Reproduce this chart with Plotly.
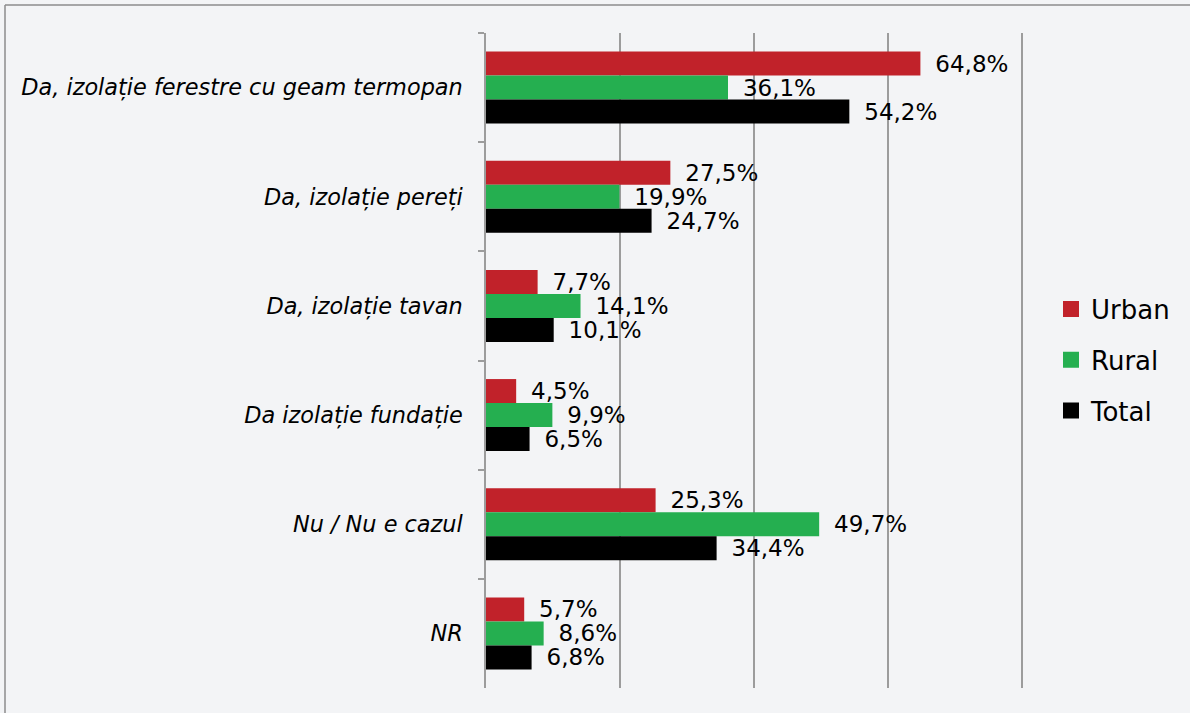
import plotly.graph_objects as go

categories = [
    "Da, izolație ferestre cu geam termopan",
    "Da, izolație pereți",
    "Da, izolație tavan",
    "Da izolație fundație",
    "Nu / Nu e cazul",
    "NR",
]
urban = [64.8, 27.5, 7.7, 4.5, 25.3, 5.7]
rural = [36.1, 19.9, 14.1, 9.9, 49.7, 8.6]
total = [54.2, 24.7, 10.1, 6.5, 34.4, 6.8]

series = [
    ("Urban", urban, "#C1222A"),
    ("Rural", rural, "#25AF50"),
    ("Total", total, "#000000"),
]

PAD = "\u00a0\u2009"


def fmt(v):
    return PAD + f"{v:.1f}%".replace(".", ",")


W, H = 1190, 713
L, R, T, B = 486, 161, 33, 25
PW = W - L - R
PH = H - T - B

fig = go.Figure()
for name, vals, col in series:
    fig.add_trace(go.Bar(
        y=categories, x=vals, orientation="h", name=name,
        marker=dict(color=col, line=dict(width=0)),
        text=[fmt(v) for v in vals], textposition="outside",
        constraintext="none",
        textfont=dict(family="DejaVu Sans", size=23, color="#000000"),
        cliponaxis=False, showlegend=False,
    ))
# legend entries
for name, vals, col in series:
    fig.add_trace(go.Scatter(
        x=[None], y=[None], mode="markers", name=name,
        marker=dict(symbol="square", size=17, color=col),
        legendgroup=name, showlegend=True,
    ))

fig.update_layout(
    width=W, height=H,
    margin=dict(l=L, r=R, t=T, b=B),
    paper_bgcolor="#F3F4F6", plot_bgcolor="#F3F4F6",
    barmode="group", bargap=0.34, bargroupgap=0,
    font=dict(family="DejaVu Sans", color="#000000"),
    showlegend=True,
    legend=dict(
        x=(1051 - L) / PW, y=(688 - 360) / PH, xanchor="left", yanchor="middle",
        font=dict(size=26, family="DejaVu Sans"),
        traceorder="grouped", tracegroupgap=14,
        bgcolor="rgba(0,0,0,0)", itemwidth=30,
    ),
    xaxis=dict(
        range=[0, 81], showticklabels=False, ticks="",
        showgrid=True, gridcolor="#9C9C9C", gridwidth=1.5,
        dtick=20, zeroline=False, showline=False, fixedrange=True,
    ),
    yaxis=dict(
        autorange="reversed", type="category",
        tickson="boundaries", ticks="outside", ticklen=6,
        tickcolor="#9C9C9C", tickwidth=1.5,
        showline=True, linecolor="#9C9C9C", linewidth=1.5,
        showgrid=False,
        tickfont=dict(family="DejaVu Sans", size=22.4, style="italic"),
        ticklabelstandoff=17,
    ),
    shapes=[
        dict(type="line", xref="paper", yref="paper",
             x0=(5 - L) / PW, x1=2, y0=(688 - 5) / PH, y1=(688 - 5) / PH,
             line=dict(color="#8C8C8C", width=1.5)),
        dict(type="line", xref="paper", yref="paper",
             x0=(5 - L) / PW, x1=(5 - L) / PW, y0=-1, y1=(688 - 5) / PH,
             line=dict(color="#8C8C8C", width=1.5)),
    ],
)

fig.write_html("out.html", config={"displayModeBar": False},
               post_script="document.body.style.margin='0px';")
